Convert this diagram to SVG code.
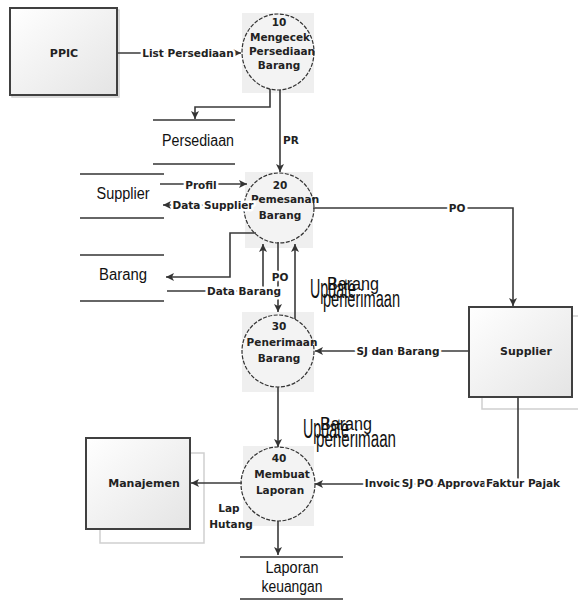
<svg xmlns="http://www.w3.org/2000/svg" width="578" height="600" viewBox="0 0 578 600">
<defs>
<linearGradient id="boxg" x1="0" y1="0" x2="1" y2="1">
<stop offset="0" stop-color="#ffffff"/>
<stop offset="1" stop-color="#e4e4e4"/>
</linearGradient>
<marker id="ah" markerUnits="userSpaceOnUse" markerWidth="10" markerHeight="10" refX="8" refY="4" orient="auto">
<path d="M0,0 L8,4 L0,8 L2,4 z" fill="#333"/>
</marker>
<style>
.box{fill:url(#boxg);stroke:#404040;stroke-width:2}
.shadow{fill:#fff;stroke:#cfcfcf;stroke-width:1.5}
.bg{fill:#efefef}
.proc{fill:#f3f3f3;stroke:#333;stroke-width:1.2;stroke-dasharray:4 1.5}
.ln{fill:none;stroke:#3a3a3a;stroke-width:1.6}
.arr{marker-end:url(#ah)}
.store{stroke:#333;stroke-width:1.6}
.t{font-family:"DejaVu Sans",sans-serif;font-weight:bold;fill:#222;text-anchor:middle}
.bt{font-size:11px}
.pt{font-size:10.5px}
.lb{font-size:10.5px;stroke:#fff;stroke-width:5;paint-order:stroke;stroke-linejoin:round}
.nl{font-size:10.5px}
.st{font-family:"Liberation Sans",sans-serif;font-size:16px;fill:#111;text-anchor:middle}
.up{font-family:"Liberation Sans",sans-serif;fill:#111}
</style>
</defs>
<rect width="578" height="600" fill="#fff"/>

<g id="ppic">
<rect class="shadow" x="12" y="10" width="107" height="87"/>
<rect class="box" x="10" y="8" width="107" height="87"/>
<text class="t bt" x="64" y="53" dy=".35em">PPIC</text>
</g>

<g id="supplier-ext">
<rect class="shadow" x="482" y="316" width="110" height="93"/>
<rect class="box" x="469" y="307" width="103" height="90"/>
<text class="t bt" x="526" y="351" dy=".35em">Supplier</text>
</g>

<g id="manajemen">
<rect class="shadow" x="100" y="453" width="104" height="90"/>
<rect class="box" x="86" y="438" width="104" height="91"/>
<text class="t bt" x="144" y="483" dy=".35em">Manajemen</text>
</g>

<g id="p10">
<rect class="bg" x="242" y="13" width="72" height="80"/>
<ellipse class="proc" cx="278" cy="52" rx="36" ry="38"/>
<text class="t pt" x="279" y="22" dy=".35em">10</text>
<text class="t pt" x="280" y="37" dy=".35em">Mengecek</text>
<text class="t pt" x="282" y="51" dy=".35em">Persediaan</text>
<text class="t pt" x="279" y="65" dy=".35em">Barang</text>
</g>

<g id="p20">
<rect class="bg" x="245" y="172" width="68" height="76"/>
<circle class="proc" cx="279" cy="208" r="35"/>
<text class="t pt" x="280" y="185" dy=".35em">20</text>
<text class="t pt" x="285" y="199" dy=".35em">Pemesanan</text>
<text class="t pt" x="280" y="215" dy=".35em">Barang</text>
</g>

<g id="p30">
<rect class="bg" x="242" y="312" width="72" height="80"/>
<circle class="proc" cx="278" cy="351" r="36"/>
<text class="t pt" x="279" y="326" dy=".35em">30</text>
<text class="t pt" x="282" y="342" dy=".35em">Penerimaan</text>
<text class="t pt" x="279" y="358" dy=".35em">Barang</text>
</g>

<g id="p40">
<rect class="bg" x="243" y="446" width="71" height="80"/>
<circle class="proc" cx="278" cy="484" r="37"/>
<text class="t pt" x="279" y="458" dy=".35em">40</text>
<text class="t pt" x="282" y="474" dy=".35em">Membuat</text>
<text class="t pt" x="280" y="490" dy=".35em">Laporan</text>
</g>

<g id="ds-persediaan">
<line class="store" x1="153" y1="120" x2="235" y2="120"/>
<line class="store" x1="153" y1="164" x2="235" y2="164"/>
<text class="st" x="198" y="146" textLength="72" lengthAdjust="spacingAndGlyphs">Persediaan</text>
</g>

<g id="ds-supplier">
<line class="store" x1="80" y1="174" x2="164" y2="174"/>
<line class="store" x1="80" y1="218" x2="164" y2="218"/>
<text class="st" x="123" y="199" textLength="53" lengthAdjust="spacingAndGlyphs">Supplier</text>
</g>

<g id="ds-barang">
<line class="store" x1="80" y1="255" x2="164" y2="255"/>
<line class="store" x1="80" y1="301" x2="164" y2="301"/>
<text class="st" x="123" y="280" textLength="48" lengthAdjust="spacingAndGlyphs">Barang</text>
</g>

<g id="ds-laporan">
<line class="store" x1="240" y1="557" x2="343" y2="557"/>
<line class="store" x1="240" y1="599" x2="343" y2="599"/>
<text class="st" x="292" y="573" textLength="53" lengthAdjust="spacingAndGlyphs">Laporan</text>
<text class="st" x="292" y="592" textLength="61" lengthAdjust="spacingAndGlyphs">keuangan</text>
</g>

<g id="connectors">
<path class="ln arr" d="M117,53 H241"/>
<path class="ln arr" d="M270,89 V107 H195 V119"/>
<path class="ln arr" d="M280,90 V172"/>
<path class="ln arr" d="M160,184 H247"/>
<path class="ln arr" d="M248,205 H163"/>
<path class="ln arr" d="M256,233 H230 V277 H166"/>
<path class="ln arr" d="M167,291 H263 V244"/>
<path class="ln arr" d="M278,242 V312"/>
<path class="ln arr" d="M295,319 V244"/>
<path class="ln arr" d="M313,208 H513 V306"/>
<path class="ln arr" d="M470,351 H315"/>
<path class="ln arr" d="M278,387 V447"/>
<path class="ln arr" d="M518,397 V484 H315"/>
<path class="ln arr" d="M242,483 H191"/>
<path class="ln arr" d="M278,521 V555"/>
<text class="t lb" x="188" y="53" dy=".35em">List Persediaan</text>
<text class="t nl" x="291" y="140" dy=".35em">PR</text>
<text class="t lb" x="201" y="185" dy=".35em">Profil</text>
<text class="t lb" x="213" y="205" dy=".35em">Data Supplier</text>
<text class="t lb" x="244" y="291" dy=".35em">Data Barang</text>
<text class="t lb" x="280" y="277" dy=".35em">PO</text>
<text class="t lb" x="457" y="208" dy=".35em">PO</text>
<text class="t lb" x="398" y="351" dy=".35em">SJ dan Barang</text>
<text class="t lb" x="386" y="483" dy=".35em">Invoice</text>
<text class="t lb" x="446" y="483" dy=".35em">SJ PO Approval</text>
<text class="t lb" x="523" y="483" dy=".35em">Faktur Pajak</text>
<text class="t nl" x="229" y="508" dy=".35em">Lap</text>
<text class="t nl" x="231" y="524" dy=".35em">Hutang</text>
<g id="update1">
<text class="up" x="310" y="298" font-size="28" textLength="46" lengthAdjust="spacingAndGlyphs">Update</text>
<text class="up" x="327" y="290" font-size="18" textLength="52" lengthAdjust="spacingAndGlyphs">Barang</text>
<text class="up" x="323" y="307" font-size="23" textLength="77" lengthAdjust="spacingAndGlyphs">penerimaan</text>
</g>
<g id="update2">
<text class="up" x="303" y="438" font-size="28" textLength="46" lengthAdjust="spacingAndGlyphs">Update</text>
<text class="up" x="320" y="430" font-size="18" textLength="52" lengthAdjust="spacingAndGlyphs">Barang</text>
<text class="up" x="316" y="447" font-size="23" textLength="80" lengthAdjust="spacingAndGlyphs">penerimaan</text>
</g>
</g>
</svg>
